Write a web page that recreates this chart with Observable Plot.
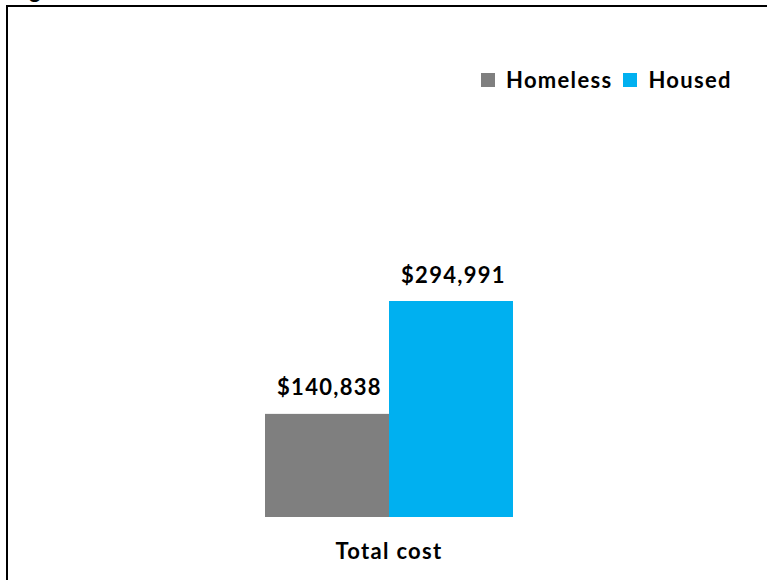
<!DOCTYPE html>
<html>
<head>
<meta charset="utf-8">
<script src="https://cdn.jsdelivr.net/npm/d3@7"></script>
<script src="https://cdn.jsdelivr.net/npm/@observablehq/plot@0.6"></script>
<style>
  html, body { margin: 0; padding: 0; background: #fff; }
  body { width: 767px; height: 580px; position: relative; overflow: hidden; font-family: Lato, "Open Sans", sans-serif; }
  #frame { position: absolute; left: 6px; top: 5px; width: 900px; height: 700px; border-left: 2px solid #000; border-top: 2px solid #000; }
  #chart { position: absolute; left: 0; top: 0; }
  #legend { position: absolute; left: 481px; top: 63px; }
  #legend span[class$="-swatch"] { margin-right: 11px !important; }
  #cut { position: absolute; left: 0; top: 0; }
</style>
</head>
<body>
<div id="frame"></div>
<svg id="cut" width="120" height="10"><text x="11" y="-2.5" font-family="Lato" font-weight="bold" font-size="22">Figure</text></svg>
<div id="chart"></div>
<div id="legend"></div>
<script>
const categories = ["Total cost"];
const series = ["Homeless", "Housed"];
const values = [140838, 294991];
const colors = ["#7F7F7F", "#00B0F0"];

const data = series.map((s, i) => ({category: categories[0], series: s, value: values[i]}));
const fmt = d3.format("$,");

const chart = Plot.plot({
  width: 767,
  height: 580,
  marginLeft: 264,
  marginRight: 254,
  marginTop: 301,
  marginBottom: 63,
  style: {fontFamily: "Lato, 'Open Sans', sans-serif", fontWeight: "bold", fontSize: "22px", letterSpacing: "1.3px", color: "#000", background: "transparent", overflow: "visible"},
  fx: {domain: categories, padding: 0, axis: null},
  x: {domain: series, padding: 0, axis: null},
  y: {domain: [0, d3.max(values)], axis: null},
  color: {domain: series, range: colors},
  marks: [
    Plot.barY(data, {fx: "category", x: "series", y: "value", fill: "series"}),
    Plot.text(data, {fx: "category", x: "series", y: "value", text: d => fmt(d.value), dy: -26, dx: 2, lineAnchor: "middle", fill: "#000", fontSize: 22, fontWeight: "bold"}),
    Plot.text(categories, {fx: d => d, text: d => d, frameAnchor: "bottom", dy: 34, lineAnchor: "middle", fill: "#000", fontSize: 22, fontWeight: "bold"})
  ]
});
document.getElementById("chart").appendChild(chart);

const legend = Plot.legend({
  color: {domain: series, range: colors},
  legend: "swatches",
  swatchSize: 14,
  style: {fontFamily: "Lato, 'Open Sans', sans-serif", fontWeight: "bold", fontSize: "22px", letterSpacing: "1.3px", color: "#000", background: "transparent"}
});
document.getElementById("legend").appendChild(legend);
</script>
</body>
</html>
